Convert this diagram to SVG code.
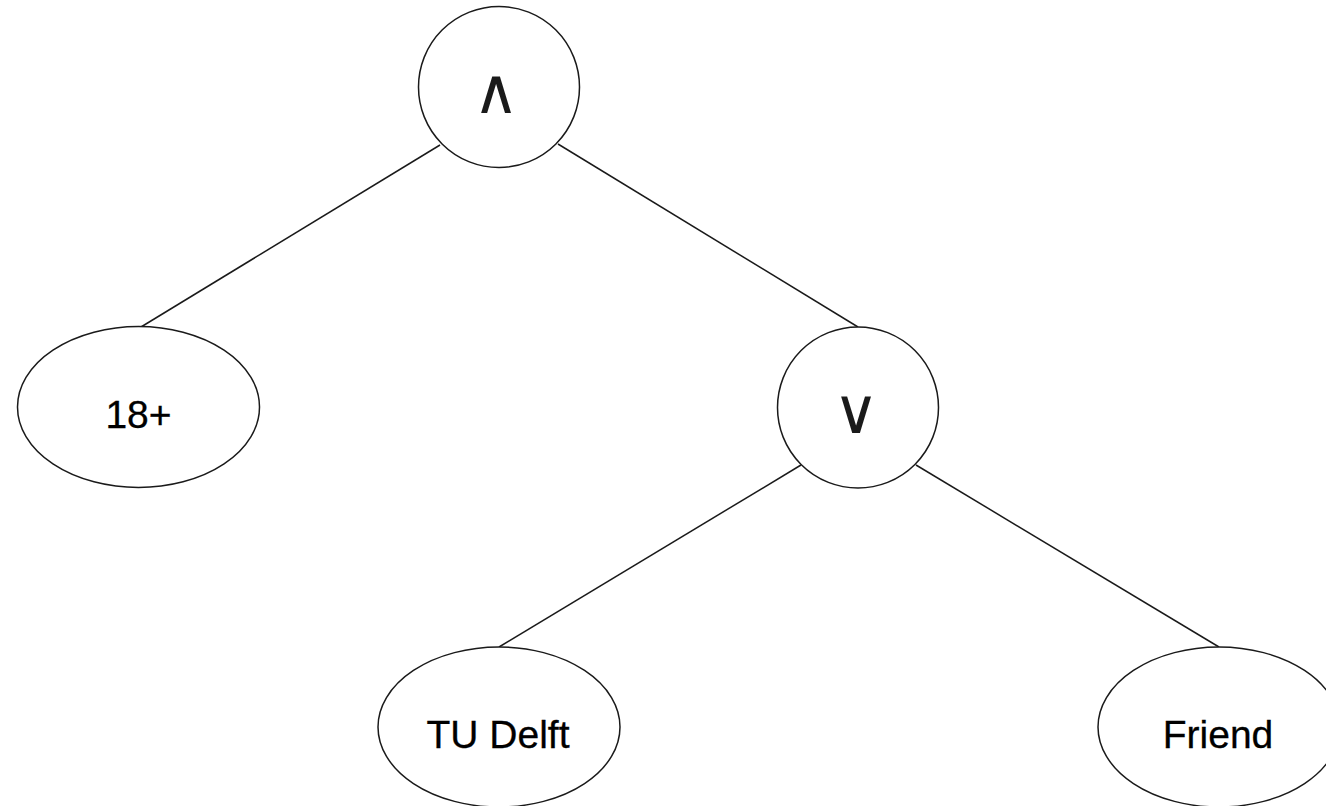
<svg xmlns="http://www.w3.org/2000/svg" width="1326" height="806" viewBox="0 0 1326 806">
<style>
.shape{fill:#fff;stroke:#1a1a1a;stroke-width:1.5}
.edge{fill:none;stroke:#1a1a1a;stroke-width:1.5}
.lbl{font-family:"Liberation Sans",Arial,sans-serif;font-size:39px;fill:#000;stroke:#000;stroke-width:0.3;text-anchor:middle}
.op{font-family:"DejaVu Sans",sans-serif;font-size:63px;fill:#1a1a1a;text-anchor:middle}
</style>
<rect width="1326" height="806" fill="#fff"/>
<g id="connectors">
<line class="edge" x1="440" y1="145" x2="141" y2="327"/>
<line class="edge" x1="558" y1="144" x2="858" y2="327"/>
<line class="edge" x1="801" y1="465" x2="499" y2="647"/>
<line class="edge" x1="916" y1="465" x2="1219" y2="647"/>
</g>
<g id="node-and">
<circle class="shape" cx="499" cy="87" r="80.5"/>
<text class="op" x="496" y="113">∧</text>
</g>
<g id="node-18plus">
<ellipse class="shape" cx="138.5" cy="407" rx="121" ry="80.5"/>
<text class="lbl" x="138.5" y="428">18+</text>
</g>
<g id="node-or">
<circle class="shape" cx="858" cy="407.5" r="80.5"/>
<text class="op" x="856" y="433">∨</text>
</g>
<g id="node-tudelft">
<ellipse class="shape" cx="499" cy="727" rx="121" ry="80"/>
<text class="lbl" x="498" y="748">TU Delft</text>
</g>
<g id="node-friend">
<ellipse class="shape" cx="1219" cy="727" rx="121" ry="80"/>
<text class="lbl" x="1218" y="748">Friend</text>
</g>
</svg>
